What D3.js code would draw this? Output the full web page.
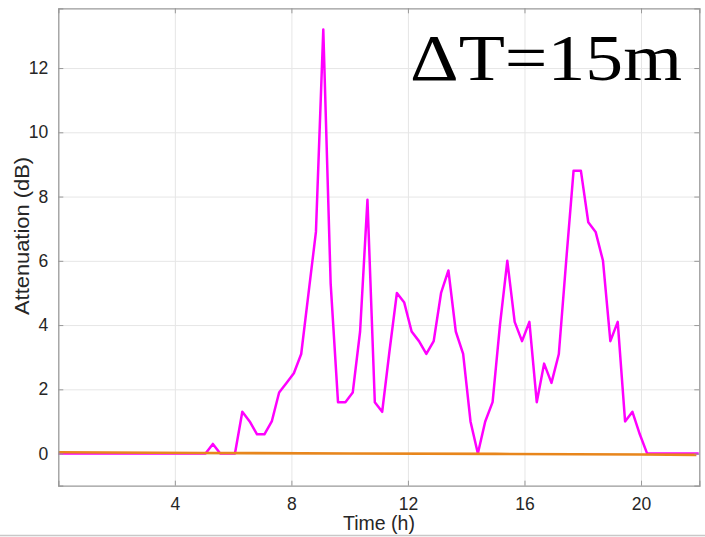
<!DOCTYPE html>
<html>
<head>
<meta charset="utf-8">
<script src="https://cdn.jsdelivr.net/npm/d3@7"></script>
<style>
  body { margin: 0; background: #fff; }
</style>
</head>
<body>
<div id="chart"></div>
<script>
// sample times: 96 samples over 24 h, only the first part is inside the axes
var nSamples = 88;
var sampleStep = 24 / 95;

// magenta series (dB), one value per sample
var attenuation = [
  0, 0, 0, 0, 0, 0, 0, 0, 0, 0,
  0, 0, 0, 0, 0, 0, 0, 0, 0, 0,
  0, 0.3, 0, 0, 0, 1.3, 1.0, 0.6, 0.6, 1.0,
  1.9, 2.2, 2.5, 3.1, 5.0, 6.9, 13.2, 5.3, 1.6, 1.6,
  1.9, 3.8, 7.9, 1.6, 1.3, 3.2, 5.0, 4.7, 3.8, 3.5,
  3.1, 3.5, 5.0, 5.7, 3.8, 3.1, 1.0, 0, 1.0, 1.6,
  4.0, 6.0, 4.1, 3.5, 4.1, 1.6, 2.8, 2.2, 3.1, 6.0,
  8.8, 8.8, 7.2, 6.9, 6.0, 3.5, 4.1, 1.0, 1.3, 0.6,
  0, 0, 0, 0, 0, 0, 0, 0
];

// orange series, read at a few times
var orangeTime = [0, 5, 10, 15, 20, 21.9];
var orangeVal = [0.04, 0.02, 0.0, -0.01, -0.03, -0.04];

var xTicks = [4, 8, 12, 16, 20];
var yTicks = [0, 2, 4, 6, 8, 10, 12];
var xLabel = "Time (h)";
var yLabel = "Attenuation (dB)";
var title = "\u0394T=15m";

function draw_chart() {
  var w = 705, h = 537;
  var pl = 58.3, pr = 699.3, pt = 8.3, pb = 485.7;
  var sans = "Liberation Sans, Arial, sans-serif";

  var x = d3.scaleLinear().domain([0, 22]).range([pl, pr]);
  var y = d3.scaleLinear().domain([-1, 13.86]).range([pb, pt]);

  var svg = d3.select("#chart").append("svg")
    .attr("width", w)
    .attr("height", h);

  svg.append("rect").attr("width", w).attr("height", h).attr("fill", "#fff");

  // grid
  svg.append("g")
    .attr("transform", "translate(0," + pb + ")")
    .call(d3.axisBottom(x).tickValues(xTicks).tickSize(-(pb - pt)).tickFormat(""))
    .call(g => g.select(".domain").remove())
    .call(g => g.selectAll("line").attr("stroke", "#e6e6e6"));
  svg.append("g")
    .attr("transform", "translate(" + pl + ",0)")
    .call(d3.axisLeft(y).tickValues(yTicks).tickSize(-(pr - pl)).tickFormat(""))
    .call(g => g.select(".domain").remove())
    .call(g => g.selectAll("line").attr("stroke", "#e6e6e6"));

  // clip for the lines
  svg.append("clipPath").attr("id", "clip")
    .append("rect")
    .attr("x", pl).attr("y", pt)
    .attr("width", pr - pl).attr("height", pb - pt);

  var magenta = attenuation.slice(0, nSamples).map(function(v, i) {
    return { t: i * sampleStep, v: v };
  });
  var orange = orangeTime.map(function(t, i) {
    return { t: t, v: orangeVal[i] };
  });

  var line = d3.line()
    .x(d => x(d.t))
    .y(d => y(d.v));

  svg.append("path")
    .datum(magenta)
    .attr("clip-path", "url(#clip)")
    .attr("fill", "none")
    .attr("stroke", "#ff00ff")
    .attr("stroke-width", 2.5)
    .attr("stroke-linejoin", "round")
    .attr("d", line);

  svg.append("path")
    .datum(orange)
    .attr("clip-path", "url(#clip)")
    .attr("fill", "none")
    .attr("stroke", "#e8861c")
    .attr("stroke-width", 2.6)
    .attr("d", line);

  // axes box with inward ticks on all sides
  var axisColor = "#999";
  var tk = 5;
  svg.append("g")
    .attr("transform", "translate(0," + pb + ")")
    .call(d3.axisBottom(x).tickValues(xTicks).tickSize(-tk).tickPadding(tk + 7))
    .call(g => g.select(".domain").attr("stroke", axisColor).attr("stroke-width", 1.3))
    .call(g => g.selectAll("line").attr("stroke", axisColor))
    .call(g => g.selectAll("text").attr("font-size", 17.5).attr("fill", "#262626")
      .attr("font-family", sans));
  svg.append("g")
    .attr("transform", "translate(0," + pt + ")")
    .call(d3.axisTop(x).tickValues(xTicks).tickSize(-tk).tickFormat(""))
    .call(g => g.select(".domain").attr("stroke", axisColor).attr("stroke-width", 1.3))
    .call(g => g.selectAll("line").attr("stroke", axisColor));
  svg.append("g")
    .attr("transform", "translate(" + pl + ",0)")
    .call(d3.axisLeft(y).tickValues(yTicks).tickSize(-tk).tickPadding(tk + 5))
    .call(g => g.select(".domain").attr("stroke", axisColor).attr("stroke-width", 1.3))
    .call(g => g.selectAll("line").attr("stroke", axisColor))
    .call(g => g.selectAll("text").attr("font-size", 17.5).attr("fill", "#262626")
      .attr("font-family", sans));
  svg.append("g")
    .attr("transform", "translate(" + pr + ",0)")
    .call(d3.axisRight(y).tickValues(yTicks).tickSize(-tk).tickFormat(""))
    .call(g => g.select(".domain").attr("stroke", axisColor).attr("stroke-width", 1.3))
    .call(g => g.selectAll("line").attr("stroke", axisColor));

  // axis labels
  svg.append("text")
    .attr("x", 379)
    .attr("y", 530)
    .attr("text-anchor", "middle")
    .attr("font-family", sans)
    .attr("font-size", 19.5)
    .attr("fill", "#262626")
    .text(xLabel);

  svg.append("text")
    .attr("transform", "translate(28.5," + 236 + ") rotate(-90)")
    .attr("text-anchor", "middle")
    .attr("font-family", sans)
    .attr("font-size", 19.5)
    .attr("textLength", 158)
    .attr("lengthAdjust", "spacingAndGlyphs")
    .attr("fill", "#262626")
    .text(yLabel);

  // annotation
  svg.append("text")
    .attr("x", 410)
    .attr("y", 80)
    .attr("font-family", "Liberation Serif, DejaVu Serif, serif")
    .attr("font-size", 66)
    .attr("textLength", 272)
    .attr("lengthAdjust", "spacingAndGlyphs")
    .attr("fill", "#000")
    .text(title);

  // figure border at the bottom
  svg.append("line")
    .attr("x1", 0).attr("x2", w)
    .attr("y1", 535.5).attr("y2", 535.5)
    .attr("stroke", "#c8c8c8")
    .attr("stroke-width", 1.5);
}

draw_chart();
</script>
</body>
</html>
